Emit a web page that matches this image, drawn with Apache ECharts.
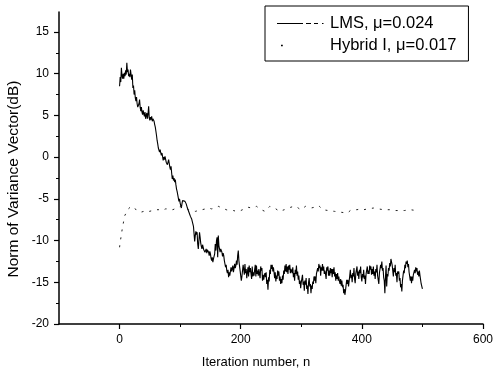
<!DOCTYPE html>
<html>
<head>
<meta charset="utf-8">
<script src="https://cdn.jsdelivr.net/npm/echarts@6/dist/echarts.min.js"></script>
<style>
html,body{margin:0;padding:0;background:#fff;}
#chart{width:496px;height:371px;}
</style>
</head>
<body>
<div id="chart"></div>
<script>
// ---- data ----
var seriesNames = ['LMS, \u03bc=0.024', 'Hybrid I, \u03bc=0.017'];
var xTickLabels = [0, 200, 400, 600];
var xMinorTicks = [100, 300, 500];
var yTickLabels = [-20, -15, -10, -5, 0, 5, 10, 15];
var yMinorTicks = [-17.5, -12.5, -7.5, -2.5, 2.5, 7.5, 12.5];
var xAxisTitle = 'Iteration number, n';
var yAxisTitle = 'Norm of Variance Vector(dB)';

// LMS: [iteration, dB]
var lmsPoints = [
[0,8.5],[1,9.6],[2,9.0],[3,10.7],[4,9.8],[5,9.4],[6,10.0],[7,9.4],[8,10.1],[9,9.7],[10,10.4],[11,9.9],[12,11.3],[13,10.2],[14,10.5],[15,9.7],[16,10.0],[17,9.6],[18,10.5],[19,9.9],[20,9.3],[21,9.9],[22,8.3],[23,8.6],[24,7.5],[25,8.0],
[26,7.1],[27,6.7],[28,7.2],[29,6.4],[30,6.0],[31,5.9],[32,6.4],[33,6.9],[34,6.0],[35,5.5],[36,6.0],[37,5.4],[38,5.1],[39,5.6],[40,5.2],[41,4.9],[42,5.4],[43,4.6],[44,5.0],[45,5.3],[46,4.6],[47,5.2],[48,6.1],[49,4.7],[50,4.4],
[51,4.8],[52,4.5],[53,4.9],[54,4.3],[55,4.6],[56,4.4],[57,4.3],[58,3.9],[59,3.6],[60,3.1],[61,2.6],[62,2.0],[63,1.6],[64,1.1],[65,1.0],[66,0.6],[67,0.9],[68,0.5],[69,0.2],[70,0.5],[71,0.1],[72,-0.4],[73,0.0],[74,-0.3],[75,0.1],[76,-0.1],
[77,-0.6],[78,-0.4],[79,-0.9],[80,-0.8],[81,-0.3],[82,-0.5],[83,-1.2],[84,-1.5],[85,-1.1],[86,-1.9],[87,-2.6],[88,-2.2],[89,-2.8],[90,-2.5],[91,-3.0],[92,-2.7],[93,-3.3],[94,-3.8],[95,-4.1],[96,-4.5],[97,-4.3],
[98,-5.3],[99,-5.0],[100,-5.5],[101,-5.7],[102,-6.1],[103,-5.6],[104,-5.2],[105,-5.3],[106,-5.0],[107,-5.4],[108,-5.3],[109,-5.1],[110,-5.6],[111,-5.8],[112,-6.1],[113,-5.9],[114,-6.3],[115,-6.7],[116,-6.5],[117,-7.1],[118,-7.0],[119,-7.4],[120,-7.7],
[121,-7.6],[122,-8.3],[123,-8.1],[124,-10.1],[125,-9.4],[126,-8.9],[127,-9.3],[128,-9.0],[129,-10.4],[130,-11.0],[131,-10.0],[132,-9.0],[133,-9.6],[134,-10.3],[135,-10.7],[136,-11.0],[137,-10.5],[138,-10.7],[139,-11.1],[140,-10.9],[141,-11.4],[142,-11.2],
[143,-11.0],[144,-11.5],[145,-11.1],[146,-11.3],[147,-11.4],[148,-11.8],[149,-11.3],[150,-11.6],[151,-12.1],[152,-12.4],[153,-12.0],[154,-12.6],[155,-12.2],[156,-11.9],[157,-11.6],[158,-10.4],[159,-11.2],[160,-10.0],[161,-9.6],[162,-12.0],[163,-9.4],[164,-10.6],
[165,-11.0],[166,-11.4],[167,-11.0],[168,-11.2],[169,-11.4],[170,-11.9],[171,-11.5],[172,-11.8],[173,-12.4],[174,-12.6],[175,-13.2],[176,-12.9],[177,-13.6],[178,-13.9],[179,-13.5],[180,-14.4],[181,-13.8],[182,-14.2],[183,-14.0],[184,-13.2],[185,-13.7],[186,-13.5],[187,-13.0],[188,-13.8],
[189,-13.3],[190,-12.8],[191,-13.3],[192,-13.0],[193,-12.4],[194,-12.9],[195,-11.8],[196,-11.2],[197,-12.4],[198,-13.0],[199,-13.6],[200,-13.6],[201,-14.8],[202,-14.3],[203,-14.4],[204,-12.9],[205,-13.5],[206,-14.1],[207,-12.8],[208,-13.9],[209,-13.4],[210,-14.5],
[211,-13.8],[212,-13.2],[213,-14.3],[214,-13.0],[215,-13.8],[216,-13.3],[217,-14.0],[218,-14.6],[219,-13.1],[220,-14.3],[221,-13.8],[222,-14.2],[223,-13.5],[224,-12.9],[225,-14.3],[226,-13.0],[227,-14.0],[228,-13.6],[229,-14.2],[230,-13.4],[231,-14.0],[232,-14.5],[233,-13.1],[234,-13.6],
[235,-13.3],[236,-14.8],[237,-14.1],[238,-14.7],[239,-14.2],[240,-13.9],[241,-14.4],[242,-13.8],[243,-15.2],[244,-14.7],[245,-15.9],[246,-14.4],[247,-14.9],[248,-13.5],[249,-14.0],[250,-12.9],[251,-13.4],[252,-12.9],[253,-13.7],[254,-13.2],[255,-13.8],[256,-14.5],
[257,-13.8],[258,-14.9],[259,-14.2],[260,-14.6],[261,-13.6],[262,-14.2],[263,-13.7],[264,-14.8],[265,-14.3],[266,-15.2],[267,-14.6],[268,-15.1],[269,-14.2],[270,-14.7],[271,-13.6],[272,-14.0],[273,-13.0],[274,-13.7],[275,-12.8],[276,-13.8],
[277,-13.1],[278,-14.0],[279,-13.0],[280,-13.5],[281,-12.9],[282,-13.9],[283,-13.4],[284,-13.3],[285,-13.9],[286,-13.2],[287,-14.4],[288,-13.9],[289,-14.8],[290,-13.5],[291,-14.0],[292,-13.0],[293,-14.2],[294,-13.7],[295,-14.7],[296,-14.2],[297,-15.2],
[298,-14.8],[299,-15.7],[300,-15.0],[301,-15.1],[302,-14.1],[303,-15.3],[304,-14.9],[305,-16.0],[306,-14.8],[307,-15.3],[308,-14.5],[309,-15.8],[310,-15.4],[311,-16.4],[312,-15.0],[313,-14.5],[314,-15.5],[315,-15.2],[316,-16.3],[317,-15.4],
[318,-15.8],[319,-14.9],[320,-15.2],[321,-14.3],[322,-14.8],[323,-14.3],[324,-15.1],[325,-14.0],[326,-14.2],[327,-13.3],[328,-13.7],[329,-12.8],[330,-13.3],[331,-13.0],[332,-14.2],[333,-13.2],[334,-13.6],[335,-12.8],[336,-13.6],[337,-13.1],
[338,-14.0],[339,-13.6],[340,-14.0],[341,-14.6],[342,-13.2],[343,-13.6],[344,-13.1],[345,-14.2],[346,-13.6],[347,-14.2],[348,-13.3],[349,-13.9],[350,-13.4],[351,-14.4],[352,-13.4],[353,-14.0],[354,-13.2],[355,-14.3],[356,-13.8],[357,-14.8],
[358,-14.0],[359,-14.6],[360,-13.9],[361,-14.8],[362,-14.3],[363,-14.9],[364,-15.2],[365,-14.6],[366,-15.4],[367,-14.8],[368,-15.6],[369,-15.3],[370,-16.3],[371,-15.8],[372,-16.5],[373,-16.0],[374,-15.9],[375,-14.7],[376,-15.2],[377,-14.7],[378,-15.5],
[379,-14.9],[380,-14.8],[381,-13.5],[382,-14.5],[383,-14.1],[384,-15.0],[385,-13.9],[386,-14.3],[387,-13.3],[388,-14.6],[389,-15.1],[390,-14.0],[391,-14.1],[392,-13.1],[393,-14.2],[394,-13.7],[395,-14.6],[396,-13.5],[397,-13.9],[398,-13.1],
[399,-14.4],[400,-14.9],[401,-14.0],[402,-14.4],[403,-13.5],[404,-14.6],[405,-14.2],[406,-15.2],[407,-14.0],[408,-14.2],[409,-13.1],[410,-14.0],[411,-13.6],[412,-14.0],[413,-13.0],[414,-13.5],[415,-13.1],[416,-14.1],[417,-13.4],[418,-14.0],
[419,-13.1],[420,-14.2],[421,-13.7],[422,-14.6],[423,-13.4],[424,-13.8],[425,-12.9],[426,-14.2],[427,-14.0],[428,-15.2],[429,-13.9],[430,-14.0],[431,-12.9],[432,-13.3],[433,-12.5],[434,-13.6],[435,-13.3],[436,-14.4],[437,-14.8],[438,-16.3],
[439,-14.4],[440,-13.0],[441,-15.5],[442,-14.0],[443,-14.3],[444,-13.3],[445,-13.6],[446,-12.7],[447,-13.1],[448,-12.2],[449,-12.0],[450,-12.9],[451,-13.1],[452,-14.3],[453,-13.3],[454,-13.8],[455,-12.9],[456,-14.2],[457,-13.9],[458,-15.0],
[459,-13.7],[460,-14.0],[461,-13.7],[462,-14.8],[463,-14.5],[464,-15.6],[465,-15.2],[466,-16.1],[467,-14.8],[468,-14.7],[469,-13.6],[470,-13.9],[471,-12.9],[472,-13.3],[473,-12.5],[474,-12.8],[475,-12.4],[476,-13.2],[477,-12.8],[478,-13.8],
[479,-13.6],[480,-14.8],[481,-14.3],[482,-15.1],[483,-14.3],[484,-14.8],[485,-14.1],[486,-14.3],[487,-13.5],[488,-13.9],[489,-13.2],[490,-13.7],[491,-13.3],[492,-14.1],[493,-13.7],[494,-14.3],[495,-13.6],[496,-14.2],[497,-14.1],[498,-15.2],
[499,-15.4],[500,-15.8]
];

// Hybrid I: [iteration, dB]
var hybridPoints = [
[0,-10.8],[1,-10.2],[3,-9.3],[5,-8.3],[6,-8.0],[8,-7.1],[10,-6.8],[13,-6.3],[16,-6.1],[19,-5.9],[22,-6.0],[25,-6.1],[28,-6.4],[31,-6.5],[35,-6.6],[40,-6.5],[45,-6.4],[49,-6.5],[55,-6.4],[60,-6.3],
[65,-6.3],[70,-6.4],[76,-6.2],[82,-6.2],[88,-6.3],[94,-6.1],[101,-5.9],[107,-6.1],[114,-6.3],[120,-6.4],[125,-6.5],[130,-6.4],[136,-6.3],[142,-6.2],[147,-6.1],[152,-6.2],[158,-6.1],[163,-5.9],[170,-6.1],[176,-6.3],
[182,-6.4],[188,-6.4],[193,-6.5],[200,-6.4],[206,-6.2],[212,-6.0],[218,-6.1],[226,-5.9],[230,-6.1],[234,-6.3],[240,-6.5],[244,-6.2],[248,-5.9],[252,-6.0],[256,-6.1],[260,-6.3],[264,-6.5],[268,-6.4],[272,-6.3],[278,-6.1],
[283,-6.0],[287,-5.9],[291,-5.9],[295,-6.1],[299,-6.3],[303,-6.1],[307,-5.9],[311,-6.0],[316,-6.1],[322,-6.0],[326,-5.8],[330,-5.9],[335,-6.3],[345,-6.4],[355,-6.5],[365,-6.6],[376,-6.7],[381,-6.4],[386,-6.3],[392,-6.3],
[398,-6.2],[403,-6.3],[410,-6.2],[419,-6.1],[427,-6.2],[436,-6.3],[443,-6.3],[449,-6.3],[455,-6.4],[460,-6.4],[470,-6.4],[480,-6.3],[490,-6.4],[495,-6.4]
];

var FONT = 'Liberation Sans';
// legend glyphs: long solid stroke with trailing dashes, and a single dot
var lmsIcon = 'path://M0,0L0,0M48,14L48,14M0,6.4H26V7.6H0ZM29,6.4H34V7.6H29ZM37,6.4H41V7.6H37ZM45,6.4H46.5V7.6H45Z';
var hybridIcon = 'path://M0,0L0,0M48,14L48,14M4,6.3H5.8V7.7H4Z';

var chart = echarts.init(document.getElementById('chart'), null, {renderer: 'canvas'});
chart.setOption({
  animation: false,
  backgroundColor: '#fff',
  grid: {left: 59, right: 9, top: 12, bottom: 47, containLabel: false},
  legend: {
    orient: 'vertical', left: 265, top: 6,
    itemWidth: 48, itemHeight: 14, itemGap: 5,
    padding: [9, 12, 7, 12],
    borderColor: '#000', borderWidth: 1,
    textStyle: {fontFamily: FONT, fontSize: 16.5, color: '#000'},
    data: [
      {name: seriesNames[0], icon: lmsIcon, itemStyle: {color: '#000'}},
      {name: seriesNames[1], icon: hybridIcon, itemStyle: {color: '#000'}}
    ]
  },
  xAxis: [{
    type: 'value', min: -100, max: 600, interval: 100,
    axisLine: {show: true, onZero: false, lineStyle: {color: '#000', width: 1.5}},
    axisTick: {show: true, inside: false, length: 5, lineStyle: {color: '#000', width: 1.2}, customValues: xTickLabels},
    axisLabel: {show: true, margin: 10, color: '#000', fontFamily: FONT, fontSize: 12, customValues: xTickLabels},
    splitLine: {show: false}
  }, {
    type: 'value', min: -100, max: 600, interval: 100, position: 'bottom',
    axisLine: {show: false, onZero: false},
    axisTick: {show: true, inside: false, length: 3, lineStyle: {color: '#000', width: 1}, customValues: xMinorTicks},
    axisLabel: {show: false},
    splitLine: {show: false}
  }],
  yAxis: [{
    type: 'value', min: -20, max: 17.4, interval: 5,
    axisLine: {show: true, onZero: false, lineStyle: {color: '#000', width: 1.5}},
    axisTick: {show: true, inside: false, length: 5, lineStyle: {color: '#000', width: 1.2}, customValues: yTickLabels},
    axisLabel: {show: true, margin: 10, color: '#000', fontFamily: FONT, fontSize: 12, customValues: yTickLabels},
    splitLine: {show: false}
  }, {
    type: 'value', min: -20, max: 17.4, position: 'left',
    axisLine: {show: false, onZero: false},
    axisTick: {show: true, inside: false, length: 3, lineStyle: {color: '#000', width: 1}, customValues: yMinorTicks},
    axisLabel: {show: false},
    splitLine: {show: false}
  }],
  graphic: [{
    type: 'text', x: 14, y: 179, rotation: Math.PI / 2,
    style: {text: yAxisTitle, fontFamily: FONT, fontSize: 15.5, fill: '#000', align: 'center', verticalAlign: 'middle'}
  }, {
    type: 'text', x: 256, y: 362,
    style: {text: xAxisTitle, fontFamily: FONT, fontSize: 13, fill: '#000', align: 'center', verticalAlign: 'middle'}
  }],
  series: [{
    name: seriesNames[0], type: 'line', data: lmsPoints,
    showSymbol: false, symbol: 'none', clip: true,
    lineStyle: {color: '#000', width: 1.1},
    itemStyle: {color: '#000'}
  }, {
    name: seriesNames[1], type: 'line', data: hybridPoints,
    showSymbol: false, symbol: 'none', clip: true,
    lineStyle: {color: '#222', width: 1, type: [2, 6]},
    itemStyle: {color: '#222'}
  }]
});
</script>
</body>
</html>
